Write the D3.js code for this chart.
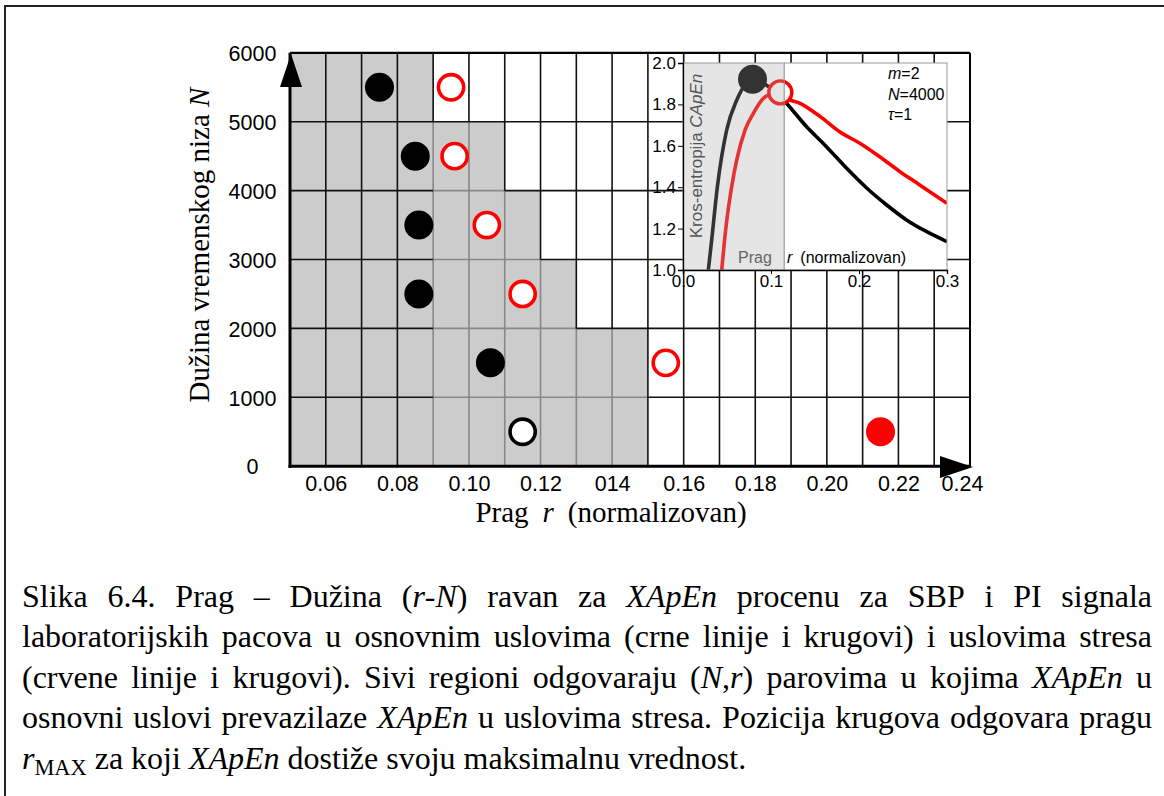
<!DOCTYPE html>
<html>
<head>
<meta charset="utf-8">
<script src="https://cdn.jsdelivr.net/npm/d3@7"></script>
<style>
body{margin:0;background:#fff;}
svg text{font-family:"Liberation Sans",Arial,sans-serif;}
.serif{font-family:"Liberation Serif","Times New Roman",serif !important;}
</style>
</head>
<body>
<script>
// r-N plane: one row per N band, rMAX for base (black) and stress (red)
var nRows=[500,1500,2500,3500,4500,5500];
var rMaxBase=[0.115,0.106,0.086,0.086,0.085,0.075];
var rMaxStress=[0.215,0.155,0.115,0.105,0.096,0.095];
var baseHigher=[false,true,true,true,true,true];
var grayUntil=[0.15,0.15,0.13,0.12,0.11,0.09];   // gray cells end here, per row
var xTicks=[0.06,0.08,0.10,0.12,0.14,0.16,0.18,0.20,0.22,0.24];
var xTickLabels=['0.06','0.08','0.10','0.12','014','0.16','0.18','0.20','0.22','0.24'];
var yTicks=[0,1000,2000,3000,4000,5000,6000];

// inset: CApEn vs r, N=4000
var insetRBase=[0.0288,0.0326,0.039,0.0496,0.061,0.0667,0.079,0.092,0.105,0.116,0.1405,0.163,0.186,0.209,0.2315,0.254,0.277,0.30];
var insetCBase=[1.0,1.145,1.40,1.676,1.82,1.87,1.921,1.90,1.86,1.813,1.692,1.596,1.491,1.395,1.314,1.242,1.185,1.137];
var insetRStress=[0.044,0.0489,0.0553,0.061,0.0705,0.080,0.0913,0.097,0.1106,0.118,0.133,0.156,0.178,0.201,0.2235,0.2466,0.269,0.30];
var insetCStress=[1.0,1.21,1.402,1.531,1.676,1.757,1.829,1.845,1.858,1.829,1.805,1.741,1.668,1.612,1.547,1.475,1.411,1.322];
var insetPeakBase=[0.079,1.921];
var insetPeakStress=[0.1106,1.858];
var insetShadeTo=0.115;
var insetXTicks=[0.0,0.1,0.2,0.3];
var insetYTicks=[1.0,1.2,1.4,1.6,1.8,2.0];

var caption=[
  'Slika 6.4. Prag – Dužina (*r*-*N*) ravan za *XApEn* procenu za SBP i PI signala',
  'laboratorijskih pacova u osnovnim uslovima (crne linije i krugovi) i uslovima stresa',
  '(crvene linije i krugovi). Sivi regioni odgovaraju (*N*,*r*) parovima u kojima *XApEn* u',
  'osnovni uslovi prevazilaze *XApEn* u uslovima stresa. Pozicija krugova odgovara pragu',
  '*r*_MAX za koji *XApEn* dostiže svoju maksimalnu vrednost.'
];

var W=1164,H=796;
var svg=d3.select('body').append('svg').attr('width',W).attr('height',H);

// figure frame
svg.append('path').attr('d','M5,796 V6 H1164').attr('fill','none').attr('stroke','#222').attr('stroke-width',2);

var x=d3.scaleLinear().domain([0.05,0.24]).range([290,970]);
var y=d3.scaleLinear().domain([0,6000]).range([466.2,52.8]);

var g=svg.append('g');
var nCols=19, nR=6;
function isGray(row,col){
  if(row<0||row>=nR||col<0||col>=nCols) return false;
  return 0.05+(col+1)*0.01<=grayUntil[row]+1e-9;
}

// gray cells
g.selectAll('rect.cell').data(grayUntil).enter().append('rect')
  .attr('x',x(0.05)).attr('width',d=>x(d)-x(0.05))
  .attr('y',(d,i)=>y((i+1)*1000)).attr('height',(d,i)=>y(i*1000)-y((i+1)*1000))
  .attr('fill','#cccccc');

// grid segments, gray inside the shaded block, black elsewhere
var segs=[];
for(var c=1;c<nCols;c++){
  for(var r=0;r<nR;r++){
    var gr=isGray(r,c-1)&&isGray(r,c)&&c>=4;
    segs.push({x1:x(0.05+c*0.01),x2:x(0.05+c*0.01),y1:y(r*1000),y2:y((r+1)*1000),gray:gr});
  }
}
for(var k=1;k<nR;k++){
  for(var j=0;j<nCols;j++){
    var gr2=isGray(k-1,j)&&isGray(k,j)&&j>=4;
    segs.push({x1:x(0.05+j*0.01),x2:x(0.05+(j+1)*0.01),y1:y(k*1000),y2:y(k*1000),gray:gr2});
  }
}
segs.sort((a,b)=>(b.gray?1:0)-(a.gray?1:0));
g.selectAll('line.grid').data(segs).enter().append('line')
  .attr('x1',d=>d.x1).attr('x2',d=>d.x2).attr('y1',d=>d.y1).attr('y2',d=>d.y2)
  .attr('stroke',d=>d.gray?'#888':'#111').attr('stroke-width',1.6);

// top and right border
g.append('line').attr('x1',x(0.05)).attr('x2',x(0.24)).attr('y1',y(6000)).attr('y2',y(6000))
  .attr('stroke','#000').attr('stroke-width',2.2);
g.append('line').attr('x1',x(0.24)).attr('x2',x(0.24)).attr('y1',y(6000)).attr('y2',y(0))
  .attr('stroke','#000').attr('stroke-width',2);

// axes
var xAxis=d3.axisBottom(x).tickValues(xTicks).tickSize(0).tickPadding(0)
  .tickFormat((d,i)=>xTickLabels[i]);
var gx=g.append('g').attr('transform','translate(0,'+y(0)+')').call(xAxis);
gx.select('.domain').remove();
gx.selectAll('text').attr('y',24.5).attr('dy',0).attr('font-size',21.5).attr('fill','#000')
  .attr('dx',(d,i)=>i==xTicks.length-1?-8:0)
  .style('font-family','"Liberation Sans",Arial,sans-serif');

var yAxis=d3.axisLeft(y).tickValues(yTicks).tickSize(0).tickFormat(d3.format('d'));
var gy=g.append('g').call(yAxis);
gy.select('.domain').remove();
gy.selectAll('text').attr('x',252.5).attr('dy','0.36em').attr('text-anchor','middle')
  .attr('font-size',21.5).attr('fill','#000');

g.append('line').attr('x1',x(0.05)).attr('x2',x(0.05)).attr('y1',y(6000)).attr('y2',y(0)+1.5)
  .attr('stroke','#000').attr('stroke-width',3);
g.append('line').attr('x1',x(0.05)-1.5).attr('x2',x(0.24)).attr('y1',y(0)).attr('y2',y(0))
  .attr('stroke','#000').attr('stroke-width',3);
// arrow heads
g.append('path').attr('d','M291,54 L280,87 L302,87 Z').attr('fill','#000');
g.append('path').attr('d','M973,467 L940,456 L940,478 Z').attr('fill','#000');

// circles: base (black) and stress (red)
var rows=nRows.map((n,i)=>({n:n,rb:rMaxBase[i],rs:rMaxStress[i],bh:baseHigher[i]}));
g.selectAll('circle.base').data(rows).enter().append('circle')
  .attr('cx',d=>x(d.rb)).attr('cy',d=>y(d.n))
  .attr('r',d=>d.bh?14.5:12.6)
  .attr('fill',d=>d.bh?'#000':'#fff')
  .attr('stroke',d=>d.bh?'none':'#000').attr('stroke-width',3.6);
g.selectAll('circle.stress').data(rows).enter().append('circle')
  .attr('cx',d=>x(d.rs)).attr('cy',d=>y(d.n))
  .attr('r',d=>d.bh?12.6:14.5)
  .attr('fill',d=>d.bh?'#fff':'#ff0000')
  .attr('stroke',d=>d.bh?'#ff0000':'none').attr('stroke-width',3.6);

// axis titles
var xt=svg.append('text').attr('class','serif').attr('x',611).attr('y',522)
  .attr('text-anchor','middle').attr('font-size',29).attr('fill','#000');
xt.append('tspan').text('Prag');
xt.append('tspan').attr('dx',14).attr('font-style','italic').text('r');
xt.append('tspan').attr('dx',14).text('(normalizovan)');

var yt=svg.append('text').attr('class','serif')
  .attr('transform','translate(209,245) rotate(-90)')
  .attr('text-anchor','middle').attr('font-size',29).attr('fill','#000');
yt.append('tspan').text('Dužina vremenskog niza ');
yt.append('tspan').attr('font-style','italic').text('N');

// ---- inset ----
var ix=d3.scaleLinear().domain([0,0.3]).range([683,947]);
var iy=d3.scaleLinear().domain([1.0,2.0]).range([270,63]);
var ins=svg.append('g');
ins.append('rect').attr('x',ix(0)).attr('y',iy(2)).attr('width',ix(0.3)-ix(0))
  .attr('height',iy(1)-iy(2)).attr('fill','#fff');

var clip=ins.append('clipPath').attr('id','iclip');
clip.append('rect').attr('x',ix(0)).attr('y',iy(2)-20).attr('width',ix(0.3)-ix(0)).attr('height',iy(1)-iy(2)+20);

var line=d3.line().x(d=>ix(d[0])).y(d=>iy(d[1])).curve(d3.curveMonotoneX);
var cg=ins.append('g').attr('clip-path','url(#iclip)');
cg.append('path').datum(insetRBase.map((r,i)=>[r,insetCBase[i]]))
  .attr('d',line).attr('fill','none').attr('stroke','#000').attr('stroke-width',3.6);
cg.append('path').datum(insetRStress.map((r,i)=>[r,insetCStress[i]]))
  .attr('d',line).attr('fill','none').attr('stroke','#ff0000').attr('stroke-width',3.6);
cg.append('circle').attr('cx',ix(insetPeakBase[0])).attr('cy',iy(insetPeakBase[1]))
  .attr('r',14.5).attr('fill','#000');
cg.append('circle').attr('cx',ix(insetPeakStress[0])).attr('cy',iy(insetPeakStress[1]))
  .attr('r',11.5).attr('fill','#fff').attr('stroke','#ff0000').attr('stroke-width',3.4);
// shaded threshold band
ins.append('rect').attr('x',ix(0)).attr('y',iy(2)).attr('width',ix(insetShadeTo)-ix(0))
  .attr('height',iy(1)-iy(2)).attr('fill','#aaa').attr('opacity',0.3);
ins.append('line').attr('x1',ix(insetShadeTo)).attr('x2',ix(insetShadeTo)).attr('y1',iy(2)).attr('y2',iy(1))
  .attr('stroke','#888').attr('stroke-width',1);
ins.append('rect').attr('x',ix(0)).attr('y',iy(2)).attr('width',ix(0.3)-ix(0))
  .attr('height',iy(1)-iy(2)).attr('fill','none').attr('stroke','#999').attr('stroke-width',1);

var iyAxis=d3.axisLeft(iy).tickValues(insetYTicks).tickSize(5).tickPadding(2).tickFormat(d3.format('.1f'));
var giy=ins.append('g').attr('transform','translate('+ix(0)+',0)').call(iyAxis);
giy.select('.domain').attr('stroke','#000').attr('stroke-width',1.3);
giy.selectAll('.tick line').attr('stroke','#000');
giy.selectAll('text').attr('font-size',17).attr('fill','#000');

var ixAxis=d3.axisBottom(ix).tickValues(insetXTicks).tickSize(4).tickPadding(1).tickFormat(d3.format('.1f'));
var gix=ins.append('g').attr('transform','translate(0,'+iy(1)+')').call(ixAxis);
gix.select('.domain').attr('stroke','#000').attr('stroke-width',1.3);
gix.selectAll('.tick line').attr('stroke','#000');
gix.selectAll('text').attr('font-size',17).attr('fill','#000');

var il=ins.append('text').attr('transform','translate(702,156) rotate(-90)')
  .attr('text-anchor','middle').attr('font-size',17).attr('fill','#555');
il.append('tspan').text('Kros-entropija ');
il.append('tspan').attr('font-style','italic').text('CApEn');

ins.append('text').attr('x',755).attr('y',263).attr('text-anchor','middle')
  .attr('font-size',16).attr('fill','#666').text('Prag');
var rl=ins.append('text').attr('x',787).attr('y',263).attr('font-size',16).attr('fill','#000');
rl.append('tspan').attr('font-style','italic').text('r');
rl.append('tspan').attr('dx',8).text('(normalizovan)');

var params=[['m','=2'],['N','=4000'],['τ','=1']];
ins.selectAll('text.par').data(params).enter().append('text')
  .attr('x',888).attr('y',(d,i)=>79+i*20.5).attr('font-size',16).attr('fill','#000')
  .each(function(d){
    var t=d3.select(this);
    t.append('tspan').attr('font-style','italic').text(d[0]);
    t.append('tspan').text(d[1]);
  });

// ---- caption (justified) ----
var capG=svg.append('g');
var capSize=32, left=22, right=1152;
caption.forEach(function(ln,li){
  var words=ln.split(' ');
  var ty=607+li*40.4;
  var nodes=words.map(function(w){
    var t=capG.append('text').attr('class','serif').attr('y',ty)
      .attr('font-size',capSize).attr('fill','#000');
    var parts=w.split(/(\*[^*]+\*|_[A-Z]+)/).filter(p=>p.length);
    parts.forEach(function(p){
      if(p[0]=='*') t.append('tspan').attr('font-style','italic').text(p.slice(1,-1));
      else if(p[0]=='_') t.append('tspan').attr('font-size',capSize*0.7).attr('dy',6).text(p.slice(1));
      else t.append('tspan').text(p);
    });
    return t;
  });
  var widths=nodes.map(n=>n.node().getComputedTextLength());
  var total=d3.sum(widths);
  var gap=li<caption.length-1?(right-left-total)/(words.length-1):capSize*0.25;
  var cx=left;
  nodes.forEach(function(n,i){ n.attr('x',cx); cx+=widths[i]+gap; });
});
</script>
</body>
</html>
